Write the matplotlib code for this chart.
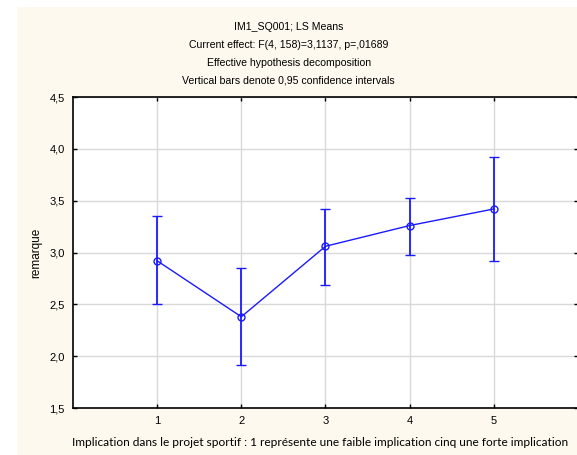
import numpy as np
import matplotlib
matplotlib.use("Agg")
import matplotlib.pyplot as plt
from matplotlib import font_manager

# LS means et intervalles de confiance 0,95
niveaux = [1, 2, 3, 4, 5]
moyennes = [2.92, 2.38, 3.06, 3.26, 3.42]
ic_haut = [3.35, 2.85, 3.42, 3.53, 3.92]
ic_bas = [2.50, 1.91, 2.69, 2.98, 2.92]
yticks = [1.5, 2.0, 2.5, 3.0, 3.5, 4.0, 4.5]
ytick_labels = ["1,5", "2,0", "2,5", "3,0", "3,5", "4,0", "4,5"]

titre = ("IM1_SQ001; LS Means\n"
         "Current effect: F(4, 158)=3,1137, p=,01689\n"
         "Effective hypothesis decomposition\n"
         "Vertical bars denote 0,95 confidence intervals")
xlabel = "Implication dans le projet sportif : 1 représente une faible implication cinq une forte implication"

# Liberation Sans normale (pas la version Narrow)
fichier = None
for f in font_manager.findSystemFonts():
    nom = f.split("/")[-1]
    if nom == "LiberationSans-Regular.ttf":
        fichier = f
if fichier:
    font_manager.fontManager.addfont(fichier)
    nom_police = font_manager.FontProperties(fname=fichier).get_name()
else:
    nom_police = "Liberation Sans"
plt.rcParams["font.family"] = [nom_police, "DejaVu Sans"]

fig = plt.figure(figsize=(5.77, 4.55), dpi=100)
fig.patch.set_facecolor("white")
# fond crème
fond = plt.Rectangle((17 / 577, 0), 1, 1 - 7 / 455, transform=fig.transFigure,
                     facecolor="#FEF9EE", edgecolor="none", zorder=-10)
fig.add_artist(fond)

ax = fig.add_axes([73 / 577, 1 - 408 / 455, 505 / 577, 311 / 455])
ax.set_zorder(1)
ax.set_facecolor("white")

x = np.array(niveaux)
m = np.array(moyennes)
err = [m - np.array(ic_bas), np.array(ic_haut) - m]
ax.errorbar(x, m, yerr=err, color="#1a1aff", lw=1, elinewidth=1.3,
            capsize=3.5, capthick=1.3, marker="o", mfc="none", mec="#1a1aff",
            ms=5, mew=1, zorder=3)

ax.set_xlim(0, 6)
ax.set_ylim(1.5, 4.5)
ax.set_xticks(niveaux)
ax.set_yticks(yticks)
ax.set_yticklabels(ytick_labels)
ax.grid(True, color="#d9d9d9", lw=1)
ax.set_axisbelow(True)
ax.tick_params(direction="in", length=3, width=1, labelsize=8,
               top=True, right=True, pad=6)
for s in ax.spines.values():
    s.set_linewidth(1.2)

ax.set_ylabel("remarque", fontsize=8.5, labelpad=5)
ax.set_xlabel(xlabel, family=["Lato", "DejaVu Sans"], fontsize=8.6, labelpad=8,
              x=0.49)
# titre centré sur la figure
ax.set_title(titre, fontsize=7.6, linespacing=1.95, pad=10, x=0.427)

fig.savefig("out.png", dpi=100)
